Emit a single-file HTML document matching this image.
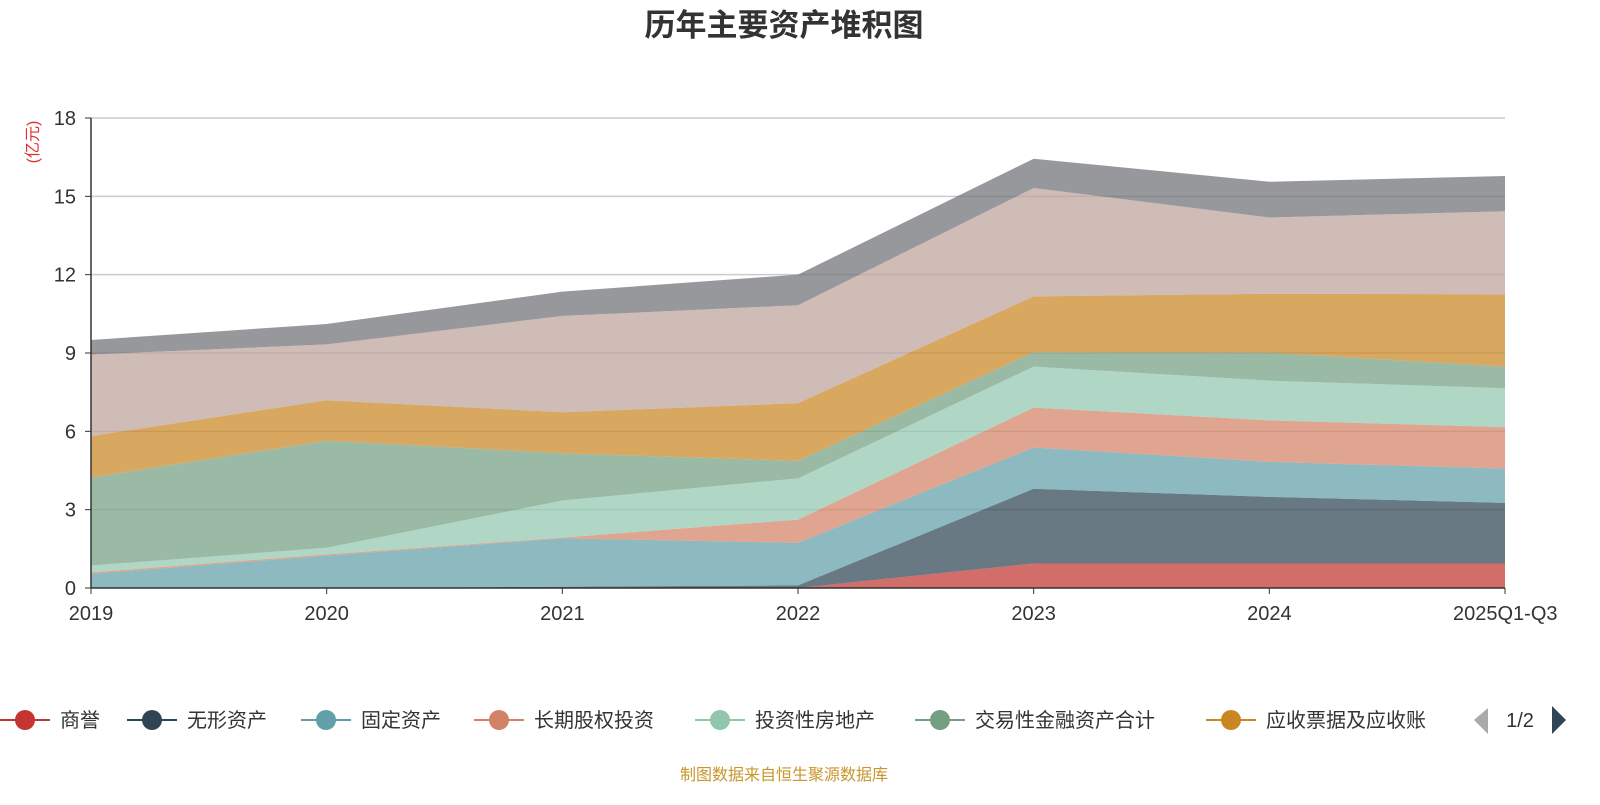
<!DOCTYPE html>
<html><head><meta charset="utf-8"><style>
body{margin:0;background:#fff;font-family:"Liberation Sans","Noto Sans CJK SC",sans-serif;}
svg text{font-family:"Liberation Sans","Noto Sans CJK SC",sans-serif;}
</style></head><body>
<svg id="c" width="1600" height="800">
<text x="784" y="36" text-anchor="middle" font-size="31" font-weight="bold" fill="#333">历年主要资产堆积图</text>
<text transform="translate(38,142) rotate(-90)" text-anchor="middle" font-size="16" fill="#e03030">(亿元)</text>
<g id="grid"></g><g id="areas"></g><g id="axes"></g><g id="legend"></g>
<text x="784" y="780" text-anchor="middle" font-size="16" fill="#c8962a">制图数据来自恒生聚源数据库</text>
</svg>
<script>
const categories=["2019","2020","2021","2022","2023","2024","2025Q1-Q3"];
const seriesNames=["商誉","无形资产","固定资产","长期股权投资","投资性房地产","交易性金融资产合计","应收票据及应收账","存货","其他"];
const goodwill=[0,0,0,0,0.94,0.94,0.94];
const intangible=[0,0,0.05,0.1,2.86,2.55,2.32];
const fixedAssets=[0.54,1.24,1.85,1.63,1.58,1.34,1.31];
const ltEquity=[0.06,0.05,0.03,0.89,1.53,1.59,1.59];
const investRE=[0.26,0.25,1.42,1.58,1.57,1.52,1.49];
const tradingFin=[3.37,4.10,1.81,0.67,0.55,1.07,0.83];
const receivables=[1.59,1.55,1.57,2.21,2.14,2.26,2.77];
const inventory=[3.12,2.14,3.69,3.75,4.15,2.92,3.18];
const others=[0.56,0.78,0.93,1.17,1.12,1.37,1.35];
const yTicks=[0,3,6,9,12,15,18];
const series=[goodwill,intangible,fixedAssets,ltEquity,investRE,tradingFin,receivables,inventory,others];
const colors=["#c23531","#2f4554","#61a0a8","#d48265","#91c7ae","#749f83","#ca8622","#bda29a","#6e7074"];
const X0=91,X1=1505,Y0=588,Y1=118,YMAX=18;
const xs=i=>X0+(X1-X0)*i/(categories.length-1);
const ys=v=>Y0-(Y0-Y1)*v/YMAX;
const NS="http://www.w3.org/2000/svg";
function mk(t,a,p){const e=document.createElementNS(NS,t);for(const k in a)e.setAttribute(k,a[k]);p.appendChild(e);return e;}
const grid=document.getElementById('grid'),axes=document.getElementById('axes'),areas=document.getElementById('areas'),legend=document.getElementById('legend');
yTicks.forEach(t=>{
 if(t>0){const l=mk('line',{x1:X0,x2:X1,y1:ys(t),y2:ys(t),stroke:'#ccc','stroke-width':1.5},grid);
 
 }
 const tx=mk('text',{x:76,y:ys(t)+7,'text-anchor':'end','font-size':20,fill:'#333'},axes);tx.textContent=t;
 
 
 mk('line',{x1:X0-6,x2:X0,y1:ys(t),y2:ys(t),stroke:'#333'},axes);
});
let base=categories.map(()=>0);
series.forEach((s,k)=>{
 const top=base.map((b,i)=>b+s[i]);
 let d='M'+top.map((v,i)=>xs(i)+','+ys(v)).join('L');
 for(let i=base.length-1;i>=0;i--)d+='L'+xs(i)+','+ys(base[i]);
 const p=mk('path',{d:d+'Z',fill:colors[k],'fill-opacity':0.72,stroke:'none'},areas);
 
 
 base=top;
});
mk('line',{x1:X0,x2:X0,y1:Y1,y2:Y0,stroke:'#333','stroke-width':1.5},axes);
mk('line',{x1:X0,x2:X1,y1:Y0,y2:Y0,stroke:'#333','stroke-width':1.5},axes);
categories.forEach((c,i)=>{
 mk('line',{x1:xs(i),x2:xs(i),y1:Y0,y2:Y0+6,stroke:'#333'},axes);
 const anchor=i==categories.length-1?'start':'middle';
 const tx=mk('text',{x:i==categories.length-1?xs(i)-52:xs(i),y:Y0+32,'text-anchor':anchor,'font-size':20,fill:'#333'},axes);tx.textContent=c;
 
 
});
const lx=[25,152,326,499,720,940,1231];
for(let k=0;k<7;k++){
 const g=mk('g',{},legend);
 
 
 mk('line',{x1:lx[k]-25,x2:lx[k]+25,y1:720,y2:720,stroke:colors[k],'stroke-width':2},g);
 mk('circle',{cx:lx[k],cy:720,r:10,fill:colors[k]},g);
 const t=mk('text',{x:lx[k]+35,y:727,'font-size':20,fill:'#333'},g);t.textContent=seriesNames[k];
}
const pp=mk('path',{d:'M1488,708 L1474,720 L1488,734Z',fill:'#aaa'},legend);


const pt=mk('text',{x:1520,y:727,'text-anchor':'middle','font-size':20,fill:'#333'},legend);pt.textContent='1/2';


const pn=mk('path',{d:'M1552,706 L1566,720 L1552,734Z',fill:'#2f4554'},legend);


</script>
</body></html>
